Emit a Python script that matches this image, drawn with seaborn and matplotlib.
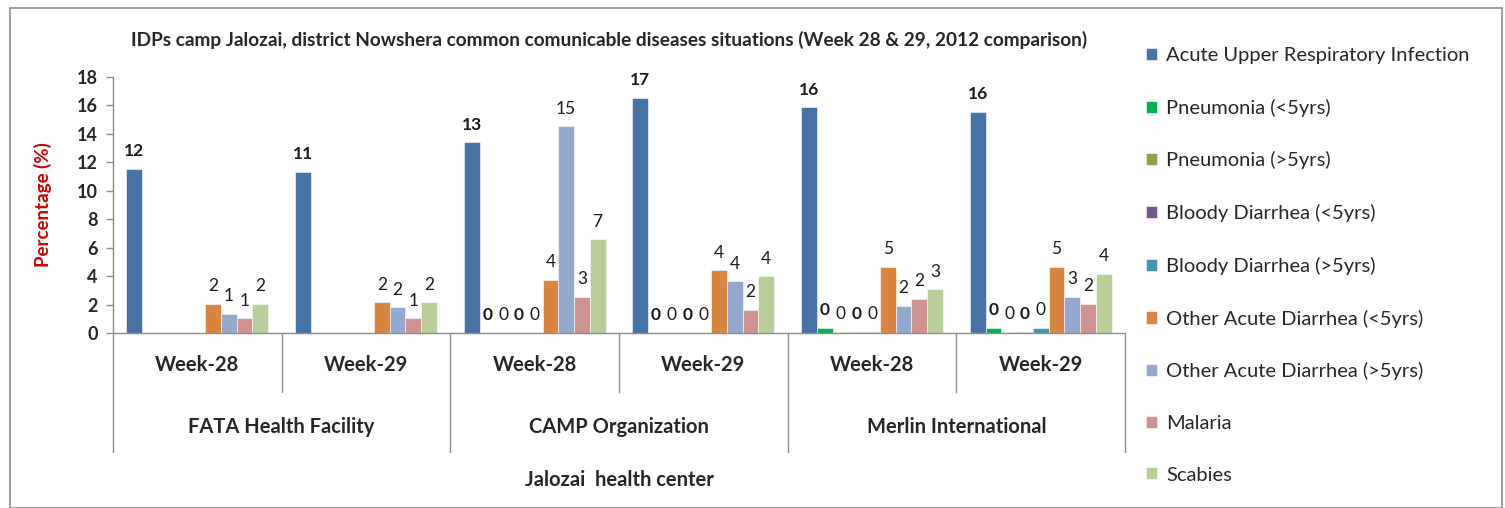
import numpy as np
import pandas as pd
import matplotlib
matplotlib.use("Agg")
import matplotlib.pyplot as plt
import matplotlib.transforms as mtransforms
from matplotlib.patches import Rectangle
import seaborn as sns

# chart data
orgs = ["FATA Health Facility", "CAMP Organization", "Merlin International"]
weeks = ["Week-28", "Week-29"]
diseases = ["Acute Upper Respiratory Infection", "Pneumonia (<5yrs)", "Pneumonia (>5yrs)",
            "Bloody Diarrhea (<5yrs)", "Bloody Diarrhea (>5yrs)", "Other Acute Diarrhea (<5yrs)",
            "Other Acute Diarrhea (>5yrs)", "Malaria", "Scabies"]
# one list per disease, order: FATA w28, FATA w29, CAMP w28, CAMP w29, Merlin w28, Merlin w29
auri = [11.55, 11.34, 13.4, 16.55, 15.87, 15.55]
pneu_u5 = [np.nan, np.nan, 0, 0, 0.37, 0.37]
pneu_o5 = [np.nan, np.nan, 0, 0, 0.1, 0.1]
bloody_u5 = [np.nan, np.nan, 0, 0, 0.1, 0.1]
bloody_o5 = [np.nan, np.nan, 0, 0, 0.1, 0.37]
oad_u5 = [2.03, 2.15, 3.76, 4.41, 4.64, 4.64]
oad_o5 = [1.35, 1.8, 14.52, 3.64, 1.91, 2.55]
malaria = [1.03, 1.03, 2.55, 1.61, 2.38, 2.03]
scabies = [2.03, 2.15, 6.58, 3.99, 3.06, 4.18]

colors = ["#4572A7", "#00B050", "#89A54E", "#71588F", "#4198AF",
          "#DB843D", "#93A9CF", "#D19392", "#B9CD96"]
bold_labels = [True, True, False, True, False, False, False, False, False]

series = [auri, pneu_u5, pneu_o5, bloody_u5, bloody_o5, oad_u5, oad_o5, malaria, scabies]
slots = [f"{o}|{w}" for o in orgs for w in weeks]
rows = []
for d, vals in zip(diseases, series):
    for s, v in zip(slots, vals):
        rows.append({"slot": s, "disease": d, "value": v})
df = pd.DataFrame(rows).dropna()

sns.set_style("white")
plt.rcParams["font.family"] = ["Lato", "DejaVu Sans"]
grey = "#8C8C8C"

fig = plt.figure(figsize=(15.05, 5.08), dpi=100)
ax = fig.add_axes([113 / 1505, 1 - 333 / 508, (1125 - 113) / 1505, (333 - 77) / 508])

sns.barplot(data=df, x="slot", y="value", hue="disease", order=slots, hue_order=diseases,
            palette=colors, width=0.84, errorbar=None, ax=ax, saturation=1,
            edgecolor="white", linewidth=0.4)

for cont, b in zip(ax.containers, bold_labels):
    ax.bar_label(cont, fmt="{:.0f}", padding=7, fontsize=12.5,
                 fontweight="bold" if b else "normal", color="#1a1a1a")

ax.set_ylim(0, 18)
ax.set_yticks(range(0, 19, 2))
ax.set_xlim(-0.5, 5.5)
ax.set_xticks([])
ax.set_xlabel("")
ax.set_ylabel("Percentage (%)", color="#D00000", fontsize=13.5, fontweight="bold", labelpad=18)
for lab in ax.get_yticklabels():
    lab.set_fontweight("bold")
    lab.set_fontsize(13)
ax.tick_params(axis="y", length=5, width=1, color=grey, left=True, pad=6)
sns.despine(ax=ax, top=True, right=True)
for sp in ["left", "bottom"]:
    ax.spines[sp].set_color(grey)
    ax.spines[sp].set_linewidth(1)

# multi-level category axis
tr = mtransforms.blended_transform_factory(ax.transData, ax.transAxes)
for x in [0.5, 2.5, 4.5]:
    ax.plot([x, x], [0, -0.23], color=grey, lw=1, transform=tr, clip_on=False)
for x in [-0.5, 1.5, 3.5, 5.5]:
    ax.plot([x, x], [0, -0.465], color=grey, lw=1, transform=tr, clip_on=False)
for i, s in enumerate(slots):
    ax.text(i, -0.125, s.split("|")[1], transform=tr, ha="center", va="center",
            fontsize=14.5, fontweight="bold")
for j, o in enumerate(orgs):
    ax.text(2 * j + 0.5, -0.367, o, transform=tr, ha="center", va="center",
            fontsize=14.5, fontweight="bold")
ax.text(2.5, -0.574, "Jalozai  health center", transform=tr, ha="center", va="center",
        fontsize=14.5, fontweight="bold")

fig.text(609 / 1505, 1 - 40 / 508,
         "IDPs camp Jalozai, district Nowshera common comunicable diseases situations (Week 28 & 29, 2012 comparison)",
         ha="center", va="center", fontsize=13.7, fontweight="bold")

handles, labels = ax.get_legend_handles_labels()
ax.legend(handles, labels, loc="upper left", bbox_to_anchor=(1138 / 1505, 1 - 39 / 508),
          bbox_transform=fig.transFigure, frameon=False, fontsize=14.5,
          handlelength=0.55, handleheight=0.55, handletextpad=0.45, labelspacing=1.72,
          borderaxespad=0)

fig.patches.append(Rectangle((10 / 1505, 0), 1492 / 1505, 1 - 8 / 508, transform=fig.transFigure,
                             fill=False, edgecolor=grey, lw=1.2))

fig.savefig("out.png", dpi=100)
